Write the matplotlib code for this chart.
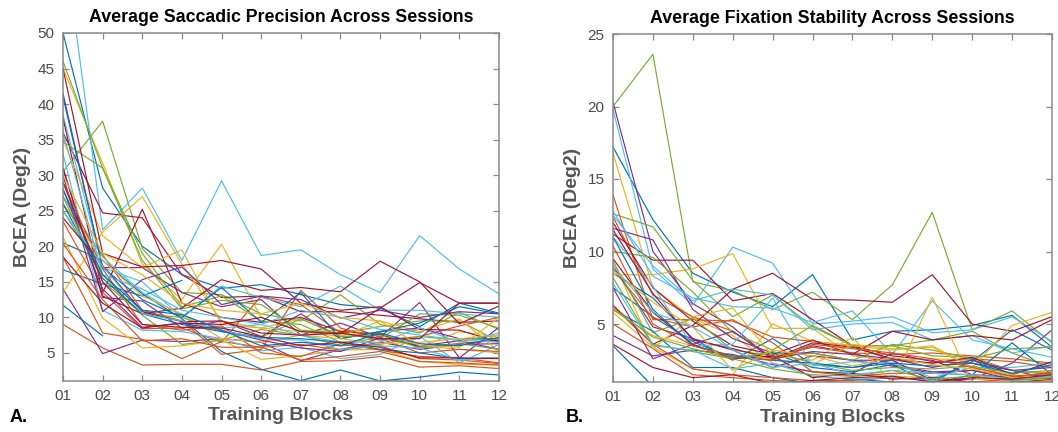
import numpy as np
import matplotlib
matplotlib.use("Agg")
import matplotlib.pyplot as plt

plt.rcParams['font.family'] = ['Liberation Sans', 'DejaVu Sans']

blocks = list(range(1, 13))
block_labels = ['01', '02', '03', '04', '05', '06', '07', '08', '09', '10', '11', '12']
nan = float('nan')

# ---------- Panel A: Average Saccadic Precision (BCEA, deg^2) ----------
sacc_blue = [
    [50, 28.2, 20, 16, 14.1, 14.6, 13.2, 11.8, 11.3, 8.7, 12, 10.6],
    [20.5, 18, 13.3, 9.8, 5.2, 2.7, 1.1, 2.6, 1.05, 1.6, 2.3, 1.9],
    [11.7, 7.4, nan, nan, nan, nan, nan, nan, nan, nan, nan, nan],
    [16.7, 14.7, 13.0, 15.2, nan, nan, nan, nan, nan, nan, nan, nan],
    [41, 17, 12.5, 10, 14.2, 9.3, 13.5, 7, 8, 9.2, 11.5, 10.5],
    [26, 15.5, 10.5, 9, 8, 7.2, 7, 6.5, 5.5, 5, 4.2, 4.3],
    [28, 16, 11, 10.4, 8.2, 6, 6.5, 6, 7.8, 6.3, 6, 7.2],
]
sacc_orange = [
    [9, 5.7, 3.3, 3.4, 3.4, 2.6, 3.8, 3.9, 4.5, 3, 3.2, 2.8],
    [18.5, 7.8, 6.9, 4.2, 6.6, 5.8, 6.2, 5.4, 6, 4.2, 4, 3.5],
    [23.5, 13.5, 8.4, 8.5, 6.5, 13, 11.8, 7.8, 6.8, 7.3, 8.8, 10],
    [25.8, 18.8, 11, 9.5, 4.8, 5.5, 13.8, 8.5, 7, 5, 5.5, 5.2],
    [29, 16.8, 9, 8.2, 8.8, 5, 4.5, 6.3, 5.4, 4.5, 4.3, 3.6],
    [20.4, 12.5, 6.7, 7, 5.8, 5.8, 4, 4.5, 5.2, 3.8, 3.6, 3.3],
]
sacc_yellow = [
    [45, 31.7, 17.5, 12.5, 20.3, 10, 8, 8.2, 7.6, 5.8, 8, 7.2],
    [13.5, 22, 27, 17.5, 9.5, 8.5, 9.8, 7.5, 7.8, 6, 5.5, 5],
    [35, 21.5, 17, 19.5, 9, 8.5, 8, 7.3, 9.5, 8, 9.8, 5.2],
    [21.3, 9.9, 5.7, 6, 6.8, 4.1, 4.6, 5.4, 5.5, 3.8, 3.4, 3.3],
    [26, 18, 13, 10.5, 7, 6.5, 7.5, 7, 6.3, 6.5, 7, 7.5],
    [30, 19, 16, 12, 11, 10.5, 12, 10, 9.5, 6, 5.8, 10],
]
sacc_purple = [
    [14, 4.9, 6.8, 6.6, 7, 6.5, 3.9, 5.5, 6.5, 5.5, 6.2, 6.3],
    [41.5, 17, 17, 13.5, 11.5, 12.5, 7.5, 9.2, 7.2, 12.1, 4.3, 8.6],
    [31, 12.8, 12.3, 8.5, 9.5, 7.3, 10.5, 7, 8, 8.5, 7, 7],
    [30, 10.8, 15.3, 17.1, 11.8, 13, 12.5, 9.9, 11, 10, 10.8, 10.5],
    [28, 14, 8.6, 9.2, 8.2, 6.8, 5.7, 5.2, 7.1, 6, 6.7, 5.5],
]
sacc_green = [
    [30.5, 37.6, 19.7, 13.5, 13.2, 10.5, 9.5, 13.2, 9, 7.8, 10.7, 8.3],
    [46, 31, 18, 11.2, 12.4, 11.8, 8.2, 7.8, 8.7, 9.5, 9.5, 6.6],
    [34.7, 31, 19, 11.5, 13, 9.5, 9, 6.5, 7, 10.5, 10.3, 8.5],
    [25, 16, 10.3, 6.2, 6.8, 8.3, 7.5, 6, 6.2, 7.3, 6.8, 7],
    [27, 15, 10.5, 10, 8, 7.2, 9.8, 7.3, 7.5, 5.7, 6.3, 5.5],
]
sacc_lightblue = [
    [64, 22.3, 28.2, 18, 29.2, 18.7, 19.5, 16, 13.5, 21.5, 16.8, 13.3],
    [38.5, 17, 15, 10, 14.4, 12.8, 11.5, 14.4, 11, 11, 10.5, 10],
    [33, 11, 8.2, 8, 7, 5.3, 5.8, 4.2, 4.8, 7.3, 3.6, 6.2],
    [27, 18.5, 13.5, 10.2, 8.5, 9, 11, 10, 8.3, 7.5, 6.8, 6.5],
    [36, 16, 14, 11, 10, 9, 7.5, 6.5, 6.5, 8.5, 6.5, 7.8],
    [25, 17.2, 10.5, 9.5, 8.2, 7, 6.8, 5.5, 6, 5.7, 4, 4.3],
]
sacc_darkred = [
    [36, 24.7, 24, 16, 12.8, 13, 10.8, 10.8, 10.3, 9.8, 9.3, 9.5],
    [38, 13.5, 25.2, 12, 10, 9.3, 10, 8, 7.6, 5.8, 6.3, 6.8],
    [45, 19, 17.1, 17.3, 18, 16.8, 12, 11, 11.5, 8.3, 8.2, 6.5],
    [31, 13, 10.5, 11.3, 15.3, 13.8, 14.2, 13.6, 17.9, 15, 9.1, 11.6],
    [24, 17.3, 10.8, 9.4, 9.5, 7.8, 7.5, 7.8, 7, 7, 12, 12],
    [18.5, 12, 8.5, 9.2, 9, 10, 8, 7.7, 11.3, 14.9, 12, 12],
    [29, 15, 9, 8.6, 8.5, 7.3, 6, 6.5, 5.8, 4.3, 4.3, 4.2],
]

# ---------- Panel B: Average Fixation Stability (BCEA, deg^2) ----------
fix_blue = [
    [17.2, 12.2, 8.5, 7.2, 6.2, 8.4, 3.9, 4.5, 4.6, 4.9, 5.6, 3.4],
    [8.5, 6.8, 4, 2.5, 4, 2.2, 2, 2.5, 1.1, 2.4, 4.6, 3.2],
    [3.5, 0.7, 0.5, 0.6, 0.7, 0.9, 0.8, 0.6, 0.5, 0.6, 0.5, 0.5],
    [7.5, 5.5, 3.8, 2.6, 3, 2, 1.7, 2.2, 0.9, 1.5, 3.7, 1.5],
    [6, 4.5, 2, 2, 1.3, 0.9, 1.2, 1, 0.9, 2.6, 1, 1.1],
    [11, 6, 3.5, 2.8, 2.5, 2.3, 2, 2.3, 2.1, 2.3, 1.6, 2.2],
]
fix_orange = [
    [13.9, 5.3, 5.3, 5.2, 4.1, 3.8, 3.5, 2.5, 2.3, 2.6, 2.4, 2],
    [12.4, 7, 5.5, 4.5, 2.7, 3.4, 3, 2.9, 3, 2.8, 2.6, 2.3],
    [5, 3.3, 1.5, 1.3, 1.1, 1, 0.9, 0.9, 0.8, 0.8, 0.8, 1.0],
    [8.8, 5.4, 4.8, 5.3, 3.7, 1.7, 1.4, 1.6, 1.6, 1.5, 1.3, 1.7],
    [6.2, 3.6, 1.9, 1.5, 1.3, 1.1, 1.1, 1.3, 1.1, 1.0, 1.2, 1.1],
    [10.4, 5, 3.5, 2.7, 2.5, 3.6, 3.3, 3.0, 2.6, 2.0, 1.4, 1.6],
]
fix_yellow = [
    [16.8, 7.5, 5.4, 4.2, 2.3, 1.7, 1.5, 1.4, 1.3, 1.2, 1.1, 1.0],
    [8.4, 8.4, 8.8, 9.85, 4.7, 4.7, 2.8, 2.5, 2.6, 2.5, 1.8, 1.6],
    [5.8, 3.4, 1.9, 1.5, 5.0, 3.8, 3.5, 3.2, 3.5, 2, 4.9, 5.8],
    [9.4, 3.3, 5.5, 6.1, 2.8, 2.5, 4.1, 0.9, 6.85, 0.9, 0.8, 0.8],
    [6, 4.2, 3.5, 2.8, 2.6, 2.2, 3.6, 3.3, 3.4, 2, 1.5, 1.3],
    [8.7, 6.5, 4.8, 1.8, 3.2, 2.8, 2.1, 2.7, 2.2, 1.9, 1.3, 1.1],
]
fix_purple = [
    [20.3, 10, 6.4, 4.8, 2.5, 3.5, 3.0, 2.2, 1.7, 1.8, 1.4, 1.5],
    [11.6, 10.8, 6, 4, 3, 3, 2.5, 2.5, 1.1, 1.2, 2.3, 4.6],
    [4.2, 2.8, 3.2, 2.9, 2.2, 1.7, 1.6, 3, 2.4, 2.3, 1.8, 1.2],
    [9, 4.8, 4, 3.2, 2, 2.8, 2.5, 2.1, 1.6, 1.8, 1.2, 1.4],
    [7.5, 2.6, 3.6, 4.5, 2.6, 3.1, 2.9, 2.6, 2.0, 2.5, 1.8, 2],
]
fix_green = [
    [20, 23.6, 7.9, 7.3, 6, 7.2, 5.3, 7.7, 12.7, 4.6, 5.9, 3.7],
    [12.6, 11.7, 8, 5.5, 7, 4.8, 3.5, 3.5, 3.9, 4.5, 3, 2],
    [10, 9.6, 7.2, 4.4, 3.2, 4.9, 3.5, 3.5, 2.8, 2.7, 1.8, 1.5],
    [9.3, 4.4, 5.4, 3.2, 2.8, 3.0, 2.5, 3.6, 3.2, 2.6, 3.3, 3.4],
    [8.2, 3.6, 3.1, 2.6, 3.1, 2.3, 1.8, 2.0, 1.9, 2.1, 1.6, 1.8],
    [6, 4.1, 3.3, 2.6, 1.9, 1.5, 1.4, 1.8, 1.2, 1.4, 1.1, 1.3],
]
fix_lightblue = [
    [19.8, 8.8, 6.3, 10.3, 9.2, 5, 5.2, 5.5, 4.4, 4.6, 5.5, 3.8],
    [12.8, 8.3, 6.8, 6.2, 6.1, 5.1, 5.9, 2.9, 6.6, 3.9, 3.3, 2.7],
    [12.5, 9, 6.6, 7.4, 7.0, 4.6, 5.0, 5.1, 3.9, 4.2, 3.0, 3.5],
    [11, 7.6, 3.5, 3.6, 6.8, 2.1, 2.4, 2.3, 1.3, 2.0, 2.0, 2.3],
    [7.8, 3.5, 3.2, 1.9, 2.3, 1.4, 1.2, 1.3, 1.1, 0.9, 0.8, 0.9],
    [9, 5.8, 4.8, 3.2, 2.0, 2.3, 1.5, 1.8, 1.6, 1.5, 1.2, 1.4],
]
fix_darkred = [
    [11.2, 9.4, 9.4, 6.6, 7.1, 5.3, 3.5, 2.8, 2.5, 1.5, 1.3, 1.2],
    [6.3, 3.6, 4.9, 7.4, 8.5, 6.7, 6.65, 6.5, 8.4, 5.0, 4.5, 5.5],
    [12, 7.5, 5.2, 3.5, 2.9, 3.9, 2.9, 4.5, 3.9, 4.2, 3.9, 5.3],
    [11.5, 7.1, 3.9, 3.3, 2.6, 3.7, 3.4, 2.6, 2.3, 2.7, 1.5, 2.4],
    [9.5, 5.8, 3.6, 2.6, 2.8, 1.3, 1.6, 1.2, 1.3, 1.0, 0.9, 1.2],
    [3.6, 2.0, 1.3, 1.5, 0.9, 1.1, 1.3, 1.4, 1.0, 1.3, 1.2, 1.5],
]

matlab_colors = ['#0072BD', '#D95319', '#EDB120', '#7E2F8E',
                 '#77AC30', '#4DBEEE', '#A2142F']

sacc_groups = [sacc_blue, sacc_orange, sacc_yellow, sacc_purple,
               sacc_green, sacc_lightblue, sacc_darkred]
fix_groups = [fix_blue, fix_orange, fix_yellow, fix_purple,
              fix_green, fix_lightblue, fix_darkred]

fig = plt.figure(figsize=(10.58, 4.32), dpi=100)
axA = fig.add_axes([63 / 1058, 1 - 381 / 432, 436 / 1058, 348 / 432])
axB = fig.add_axes([613 / 1058, 1 - 382 / 432, 439 / 1058, 348 / 432])

spine_col = '#8a8a8a'
text_col = '#4a4a4a'
label_col = '#555555'


def draw_panel(ax, groups, ylim, yticks, title):
    nmax = max(len(g) for g in groups)
    for k in range(nmax):
        for ci, g in enumerate(groups):
            if k < len(g):
                ax.plot(blocks, g[k], color=matlab_colors[ci], lw=0.85)
    ax.set_xlim(1, 12)
    ax.set_ylim(*ylim)
    ax.set_xticks(blocks)
    ax.set_xticklabels(block_labels)
    ax.set_yticks(yticks)
    ax.tick_params(direction='in', length=4, width=0.9, color=spine_col,
                   labelcolor=text_col, labelsize=11, top=True, right=True,
                   pad=6)
    for s in ax.spines.values():
        s.set_color(spine_col)
        s.set_linewidth(1.1)
    ax.set_title(title, fontsize=12.8, fontweight='bold', color='black', pad=8)
    ax.set_xlabel('Training Blocks', fontsize=14, fontweight='bold',
                  color=label_col, labelpad=3)
    ax.set_ylabel('BCEA (Deg2)', fontsize=14, fontweight='bold',
                  color=label_col, labelpad=5)


draw_panel(axA, sacc_groups, (1.05, 50), [5, 10, 15, 20, 25, 30, 35, 40, 45, 50],
           'Average Saccadic Precision Across Sessions')
draw_panel(axB, fix_groups, (1, 25), [5, 10, 15, 20, 25],
           'Average Fixation Stability Across Sessions')

fig.text(10 / 1058, 1 - 418 / 432, 'A.', fontsize=13, fontweight='bold',
         color='black', va='center', ha='left')
fig.text(566 / 1058, 1 - 418 / 432, 'B.', fontsize=13, fontweight='bold',
         color='black', va='center', ha='left')

fig.savefig('out.png', dpi=100)
